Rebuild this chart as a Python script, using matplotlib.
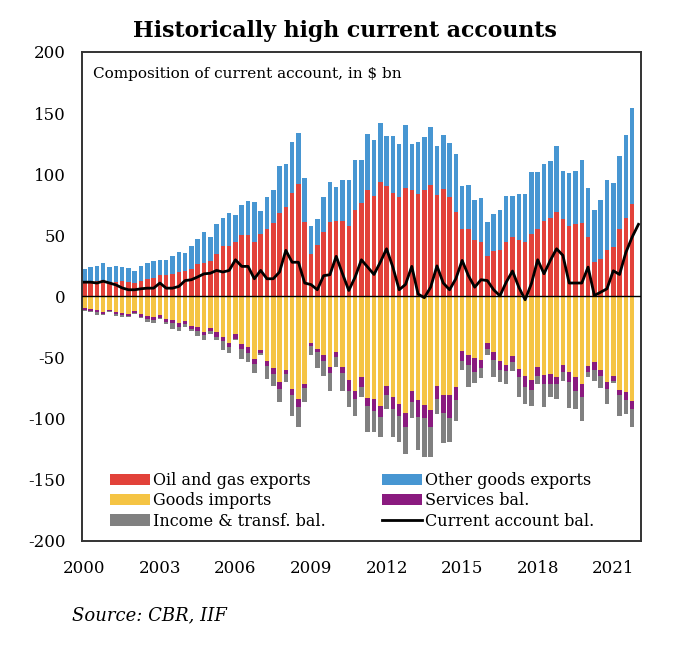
import numpy as np
import matplotlib.pyplot as plt

# quarterly, 2000Q1 - 2021Q4 ($ bn)
total_exports = [22.7, 24, 24.9, 27.3, 24, 24.9, 24, 23.2, 20.5, 24.9, 27.3, 28.7, 29.5, 29.5, 33, 36.3, 35.8, 41.3,
                 47, 53, 49, 59, 64, 68, 67, 75, 78, 77, 70, 81, 87, 107, 108, 126, 134,
                 97, 57.4, 63.7, 81.4, 94, 89.6, 95, 95, 111.5, 111.5, 133, 128, 142, 131, 131, 125, 140, 125,
                 126.5, 130.6, 139, 123, 132, 125.7, 116.4, 90, 91.5, 78.7, 80.6, 60.7, 67.8, 71, 82, 82, 83.6, 84,
                 102, 102, 108.7, 110.7, 123, 102.7, 101.4, 103, 112, 89, 70.5, 79, 95, 93, 115, 132, 154]
oil_gas = [11.7, 12.3, 12.3, 13.1, 11.7, 11.7, 12.3, 11.7, 10.9, 12.3, 14.5, 15.3, 17.2, 17.8, 18.6, 19.9, 20.8, 22.7,
           26.8, 27.6, 28.7, 34.4, 41.3, 41.3, 44.5, 50, 50, 44.5, 50.8, 55.5, 60, 68, 73, 85, 92,
           61, 34.4, 41.8, 52.7, 61, 61.7, 61.7, 58, 70.5, 76.5, 87.4, 82, 94, 90, 84.7, 81, 89, 87.4,
           84, 87, 91, 83, 88, 81.4, 69, 55.5, 55.5, 46, 44.5, 32.8, 37, 38, 44.5, 49, 46, 44.5,
           51, 55.5, 62, 64, 69, 63, 58, 59, 60, 49, 28, 31, 37.7, 40.4, 55.5, 64, 76]
other_goods = [t - o for t, o in zip(total_exports, oil_gas)]
goods_imports = [-9.6, -10.1, -10.9, -12.8, -10.7, -12.8, -13.4, -14.2, -12, -14.2, -15.6, -17, -15, -18.3, -19, -21.9, -19.7, -23.8,
                 -24.6, -29, -26, -29, -33, -38, -30.6, -39, -41.5, -51, -43.7, -52.5, -58.5, -70, -60, -75.7, -84, -71.6,
                 -38, -43, -47.5, -58, -45.6, -58, -68.3, -77, -65.6, -83, -83.9, -89.3, -73, -82.5, -88, -95, -77, -85,
                 -88.5, -93, -73, -81, -81, -74, -45, -48,
                 -50.3, -51.6, -38.3, -45.6, -53, -55.7, -48.4, -59.3, -64.8, -68.3, -58, -64, -63.4, -66, -55.7, -62,
                 -66, -72, -56.6, -53.8, -60, -70, -64.8, -76.5, -78.4, -85.8]
services = [-1.3, -1.5, -1.8, -1.5, -1.2, -1.8, -2, -2, -1.7, -2.2, -2.5, -2.5, -2.3, -2.8, -3, -3.2, -2.8, -3,
            -3.3, -2.8, -2.4, -4.1, -3.2, -3.2, -4.1, -4.1, -4.9, -4.2, -2.7, -4.1, -5, -5.8, -3.4, -4.6, -6.7, -3.4,
            -2.7, -2.6, -5, -4.8, -4.1, -4.8, -8.7, -7, -8.2, -7, -10.1, -9.1, -8, -9.5, -9.5, -12, -9.6, -13.4,
            -10.5, -14, -11, -14, -18, -11, -8, -8,
            -11.7, -6.9, -4.6, -6.4, -7, -5.3, -5.4, -6.7, -9, -8.2, -6.8, -7.6, -8.2, -6, -6.3, -8,
            -11, -10, -5.4, -6.2, -4.8, -5.7, -4.1, -3.8, -6.6, -6.2]
income_transf = [-0.6, -1.2, -2.3, -0.7, -0.4, -1.2, -1.6, -0.8, -0.5, -1.1, -2.4, -1.8, -1, -1.3, -4.5, -3.3, -2.5, -1.1,
                 -4.1, -3.5, -2.2, -2.7, -7.7, -4.9, -1.3, -8.1, -7.4, -7.6, -1.1, -10.9, -9.5, -10.5, -6.6, -17.7, -15.8, -11.6,
                 -6.8, -12.9, -12.3, -14.2, -7.7, -14.2, -13.7, -13.5, -8.2, -21, -17, -16.9, -11, -23, -21.5, -22, -12.4, -27.3,
                 -32, -24, -12, -25, -20, -16.6, -7, -18,
                 -9, -8.2, -4.6, -14, -10, -11, -7.2, -16.5, -14.2, -12.8, -6.8, -19.1, -10.9, -12, -7.4, -21,
                 -15, -19.6, -3.6, -9.4, -10.1, -12.3, -2.1, -17.2, -11, -15]
# current account runs one quarter further (to 2022Q1)
current_account = [11.7, 11.7, 11, 12.5, 11, 9.5, 7, 5.5, 5.5, 6.3, 6.8, 6.8, 11, 6.8, 6.8, 8.2, 13, 13.7,
                   16, 18.5, 19, 21.3, 20, 21.3, 30, 24.6, 24.6, 14.5, 21.3, 14.5, 14.5, 20, 37.7, 28, 28, 11,
                   9.7, 5.5, 17, 17.8, 32.8, 18.6, 4.9, 15.8, 30, 24, 18, 28, 39, 24, 5.5, 9.8, 24.6, 2,
                   -1, 7.6, 25, 11, 5.5, 14.5, 29.5, 17, 7.6, 13.7, 13, 5.5, 0.5, 11.7, 20.8, 7.6, -2.7, 10.5,
                   30, 18.6, 29.5, 39, 33.6, 11, 11, 11, 24, 0.8, 3.5, 6.3, 21, 18, 36, 48.6, 59]
year_labels = ['2000', '2003', '2006', '2009', '2012', '2015', '2018', '2021']

plt.rcParams['font.family'] = ['DejaVu Serif']
plt.rcParams['axes.unicode_minus'] = False

fig = plt.figure(figsize=(6.8, 6.57), dpi=100)
ax = fig.add_axes([0.1206, 0.1766, 0.8220, 0.7443])

x = np.arange(len(oil_gas))
w = 0.72
imp = np.array(goods_imports)
srv = np.array(services)
b_oil = ax.bar(x, oil_gas, w, color='#E2423A', label='Oil and gas exports', zorder=2)
b_oth = ax.bar(x, other_goods, w, bottom=oil_gas, color='#4796D2', label='Other goods exports', zorder=2)
b_imp = ax.bar(x, goods_imports, w, color='#F5C444', label='Goods imports', zorder=2)
b_srv = ax.bar(x, services, w, bottom=imp, color='#8A1A7F', label='Services bal.', zorder=2)
b_inc = ax.bar(x, income_transf, w, bottom=imp + srv, color='#808080', label='Income & transf. bal.', zorder=2)
ax.axhline(0, color='black', lw=1.0, zorder=3)
ln, = ax.plot(np.arange(len(current_account)), current_account, color='black', lw=2.0,
              label='Current account bal.', zorder=4)

ax.set_xlim(-0.37, 88.4)
ax.set_ylim(-200, 200)
ax.set_yticks(np.arange(-200, 201, 50))
ax.set_xticks(np.arange(0, 85, 12))
ax.set_xticklabels(year_labels)
ax.tick_params(axis='both', length=0, labelsize=12)
ax.tick_params(axis='y', pad=12)
ax.tick_params(axis='x', pad=14)
for s in ax.spines.values():
    s.set_linewidth(1.4)
    s.set_color('#333333')

ax.text(0.02, 0.955, 'Composition of current account, in $ bn', transform=ax.transAxes,
        fontsize=11, va='center', ha='left')

handles = [b_oil, b_imp, b_inc, b_oth, b_srv, ln]
labels = [h.get_label() for h in handles]
ax.legend(handles, labels, ncol=2, loc='lower left',
          bbox_to_anchor=(0.024, -0.006), frameon=False, fontsize=11.5,
          handlelength=2.5, handletextpad=0.2, columnspacing=3.5, labelspacing=0.2)

fig.text(0.507, 0.953, 'Historically high current accounts', ha='center', va='center',
         fontsize=15.8, fontweight='bold')
fig.text(0.106, 0.064, 'Source: CBR, IIF', ha='left', va='center', fontsize=13, style='italic')

fig.savefig('out.png', dpi=100)
